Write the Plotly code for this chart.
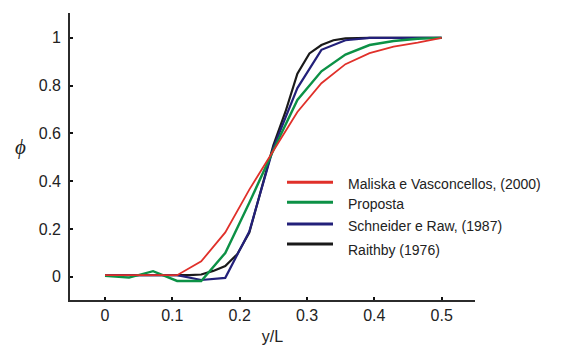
import plotly.graph_objects as go

# Data
x_grid = [0, 0.0357, 0.0714, 0.1071, 0.1429, 0.1786, 0.2143, 0.25, 0.2857,
          0.3214, 0.3571, 0.3929, 0.4286, 0.4643, 0.5]
maliska = [0.007, 0.007, 0.007, 0.007, 0.065, 0.186, 0.365, 0.53, 0.69,
           0.81, 0.89, 0.936, 0.963, 0.98, 1.0]
proposta = [0.005, -0.003, 0.024, -0.017, -0.017, 0.10, 0.31, 0.53, 0.74,
            0.86, 0.93, 0.97, 0.987, 0.996, 1.0]
schneider = [0.007, 0.007, 0.007, 0.007, -0.013, -0.004, 0.19, 0.54, 0.79,
             0.95, 0.99, 1.0, 1.0, 1.0, 1.0]
x_raithby = [0, 0.0357, 0.0714, 0.1071, 0.125, 0.1429, 0.1607, 0.1786, 0.1964,
             0.2143, 0.2321, 0.25, 0.2679, 0.2857, 0.3036, 0.3214, 0.3393,
             0.3571, 0.3929, 0.4286, 0.4643, 0.5]
raithby = [0.007, 0.007, 0.007, 0.006, 0.007, 0.010, 0.025, 0.045, 0.095,
           0.185, 0.37, 0.55, 0.69, 0.85, 0.935, 0.97, 0.99, 0.998, 1.0, 1.0,
           1.0, 1.0]

names = ["Maliska e Vasconcellos, (2000)", "Proposta", "Schneider e Raw, (1987)",
         "Raithby (1976)"]
colors = ["#e0302a", "#0c9146", "#23207a", "#1a1a1a"]
xticks = [0, 0.1, 0.2, 0.3, 0.4, 0.5]
yticks = [0, 0.2, 0.4, 0.6, 0.8, 1]
ytick_text = ["0", "0.2", "0.4", "0.6", "0.8", "1"]

FONT = "Liberation Sans, Arial, sans-serif"

fig = go.Figure()
fig.add_trace(go.Scatter(x=x_raithby, y=raithby, mode="lines", name=names[3],
                         showlegend=False, line=dict(color=colors[3], width=2.2)))
fig.add_trace(go.Scatter(x=x_grid, y=schneider, mode="lines", name=names[2],
                         showlegend=False, line=dict(color=colors[2], width=2.2)))
fig.add_trace(go.Scatter(x=x_grid, y=proposta, mode="lines", name=names[1],
                         showlegend=False, line=dict(color=colors[1], width=2.4)))
fig.add_trace(go.Scatter(x=x_grid, y=maliska, mode="lines", name=names[0],
                         showlegend=False, line=dict(color=colors[0], width=1.8)))

# Legend drawn as key lines + labels (plot area spans 70..475 px, 13..300 px)
L, R, T, B = 70, 475, 13, 300
def px(xp):
    return (xp - L) / (R - L)
def py(yp):
    return (B - yp) / (B - T)

leg_line_y = [182.3, 202.3, 224, 244]
leg_text_y = [184, 204, 226, 250]
shapes = []
annotations = []
for i, name in enumerate(names):
    shapes.append(dict(type="line", xref="paper", yref="paper",
                       x0=px(287), x1=px(333), y0=py(leg_line_y[i]), y1=py(leg_line_y[i]),
                       line=dict(color=colors[i], width=3)))
    annotations.append(dict(text=name, xref="paper", yref="paper",
                            x=px(346), y=py(leg_text_y[i]), xanchor="left", yanchor="middle",
                            showarrow=False,
                            font=dict(family=FONT, size=14, color="#222")))

annotations.append(dict(text="<i>ϕ</i>", xref="paper", yref="paper",
                        x=px(20), y=py(147), xanchor="center", yanchor="middle",
                        showarrow=False,
                        font=dict(family="Liberation Serif, serif", size=21, color="#222")))

axis_common = dict(showgrid=False, zeroline=False, showline=True,
                   linecolor="#2b2b2b", linewidth=1.6, ticks="inside",
                   ticklen=3, tickwidth=2, tickcolor="#111", automargin=False,
                   tickfont=dict(family=FONT, size=16, color="#222"))

fig.update_layout(
    width=578, height=347,
    margin=dict(l=L, r=578 - R, t=T, b=347 - B),
    paper_bgcolor="white", plot_bgcolor="white",
    showlegend=False,
    xaxis=dict(range=[-0.052, 0.5495], tickvals=xticks,
               ticktext=[str(v) for v in xticks],
               title=dict(text="y/L", standoff=8,
                          font=dict(family=FONT, size=16, color="#222")),
               **axis_common),
    yaxis=dict(range=[-0.0967, 1.104], tickvals=yticks, ticktext=ytick_text,
               ticklabelstandoff=4, **axis_common),
    shapes=shapes,
    annotations=annotations,
)

fig.write_html("out.html")
